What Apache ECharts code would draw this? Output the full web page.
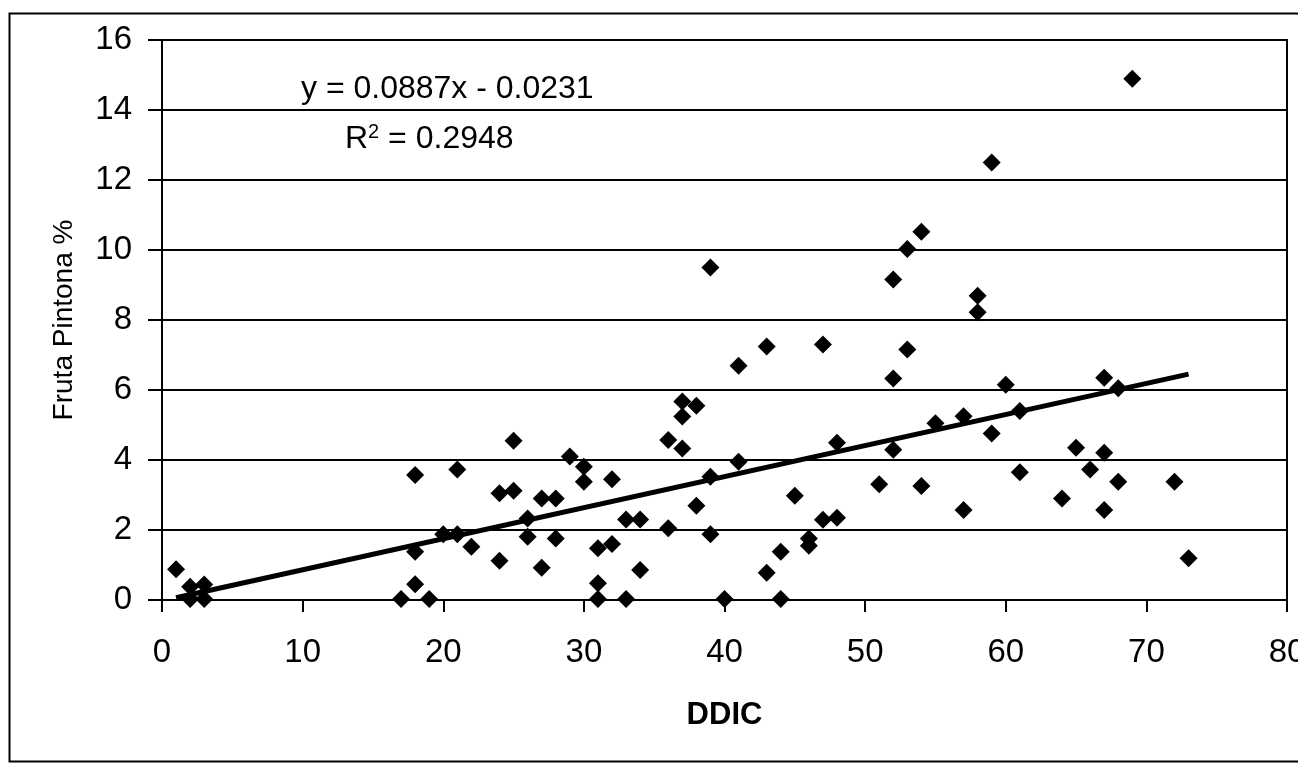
<!DOCTYPE html>
<html>
<head>
<meta charset="utf-8">
<script src="https://cdn.jsdelivr.net/npm/echarts@6/dist/echarts.min.js"></script>
<style>
html,body{margin:0;padding:0;background:#fff;}
#c{width:1298px;height:766px;}
</style>
</head>
<body>
<div id="c"></div>
<script>
// DDIC values (x) and Fruta Pintona % (y)
const ddic = [1, 2, 2, 3, 3, 17, 18, 18, 18, 19, 20, 21, 21, 22, 24, 24, 25, 25, 26, 26,
  27, 27, 28, 28, 29, 30, 30, 31, 31, 31, 32, 32, 33, 33, 34, 34, 36, 36, 37, 37,
  37, 38, 38, 39, 39, 39, 40, 41, 41, 43, 43, 44, 44, 45, 46, 46, 47, 47, 48, 48,
  51, 52, 52, 52, 53, 53, 54, 54, 55, 57, 57, 58, 58, 59, 59, 60, 61, 61, 64, 65,
  66, 67, 67, 67, 68, 68, 69, 72, 73];
const fruta = [0.88, 0.38, 0.03, 0.44, 0.03, 0.03, 3.57, 1.38, 0.45, 0.03, 1.88, 1.88, 3.73, 1.52, 3.05, 1.12, 4.55, 3.12, 2.33, 1.81,
  2.9, 0.92, 2.9, 1.76, 4.1, 3.81, 3.38, 1.48, 0.48, 0.03, 3.45, 1.6, 2.3, 0.03, 2.3, 0.86, 4.57, 2.05, 5.67, 5.24,
  4.33, 5.55, 2.69, 9.5, 3.52, 1.88, 0.03, 6.69, 3.95, 7.24, 0.78, 1.38, 0.03, 2.98, 1.76, 1.55, 7.3, 2.29, 4.49, 2.35,
  3.31, 9.16, 6.33, 4.29, 10.03, 7.16, 10.52, 3.26, 5.05, 5.25, 2.57, 8.69, 8.22, 12.5, 4.76, 6.15, 5.4, 3.65, 2.9, 4.35,
  3.73, 6.35, 4.21, 2.57, 6.05, 3.38, 14.89, 3.38, 1.19];
// Linear trend line (from the chart's equation), drawn over the data range
const slope = 0.0887;
const intercept = -0.0231;
const trendRange = [1, 73];
const xTicks = [0, 10, 20, 30, 40, 50, 60, 70, 80];
const yTicks = [0, 2, 4, 6, 8, 10, 12, 14, 16];
const eqText = 'y = 0.0887x - 0.0231';
const r2Value = '0.2948';

const points = ddic.map((x, i) => [x, fruta[i]]);
const trend = trendRange.map(x => [x, slope * x + intercept]);

const FONT = "'Liberation Sans', Arial, sans-serif";
const chart = echarts.init(document.getElementById('c'), null, {renderer: 'canvas'});
chart.setOption({
  backgroundColor: '#fff',
  animation: false,
  grid: {left: 162, right: 11, top: 40, bottom: 166, show: true, borderColor: '#000', borderWidth: 2,
    backgroundColor: 'transparent', containLabel: false, outerBoundsMode: 'none'},
  xAxis: {
    type: 'value', min: xTicks[0], max: xTicks[xTicks.length - 1], interval: 10,
    name: 'DDIC', nameLocation: 'middle', nameGap: 100,
    nameTextStyle: {fontFamily: FONT, fontSize: 31, fontWeight: 'bold', color: '#000'},
    axisLine: {show: true, onZero: false, lineStyle: {color: '#000', width: 2}},
    axisTick: {show: true, length: 12, lineStyle: {color: '#000', width: 2}},
    axisLabel: {fontFamily: FONT, fontSize: 33, color: '#000', margin: 36, showMaxLabel: true, hideOverlap: false},
    splitLine: {show: false}
  },
  yAxis: {
    type: 'value', min: yTicks[0], max: yTicks[yTicks.length - 1], interval: 2,
    name: 'Fruta Pintona %', nameLocation: 'middle', nameGap: 84, nameRotate: 90,
    nameTextStyle: {fontFamily: FONT, fontSize: 28, color: '#000'},
    axisLine: {show: true, lineStyle: {color: '#000', width: 2}},
    axisTick: {show: true, length: 14, lineStyle: {color: '#000', width: 2}},
    axisLabel: {fontFamily: FONT, fontSize: 33, color: '#000', margin: 30},
    splitLine: {show: true, lineStyle: {color: '#000', width: 2}}
  },
  graphic: [
    {type: 'rect', left: 7, top: 11, shape: {width: 1310, height: 748}, style: {fill: 'none', stroke: '#000', lineWidth: 2}, silent: true, z: -1},
    {type: 'text', left: 301, top: 73, style: {text: eqText, font: '32px ' + FONT, fill: '#000'}},
    {type: 'text', left: 345, top: 122, style: {
      text: 'R{sup|2} = ' + r2Value,
      font: '32px ' + FONT, fill: '#000',
      rich: {sup: {fontSize: 20, fontFamily: FONT, verticalAlign: 'top', padding: [0, 0, 14, 0], fill: '#000'}}
    }}
  ],
  series: [
    {
      type: 'scatter', data: points, symbol: 'diamond', symbolSize: 18,
      itemStyle: {color: '#000', opacity: 1}, z: 3
    },
    {
      type: 'line', data: trend, showSymbol: false, symbol: 'none',
      lineStyle: {color: '#000', width: 5}, z: 4
    }
  ]
});
</script>
</body>
</html>
